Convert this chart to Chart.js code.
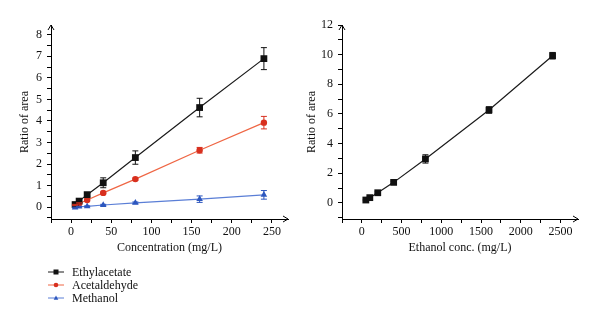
<!DOCTYPE html>
<html>
<head>
<meta charset="utf-8">
<script src="https://cdn.jsdelivr.net/npm/chart.js@4.4.0/dist/chart.umd.min.js"></script>
<style>
  html, body { margin: 0; padding: 0; background: #fff; }
  #wrap { position: relative; width: 600px; height: 324px; }
  .box { position: absolute; top: 0; width: 300px; height: 324px; }
</style>
</head>
<body>
<div id="wrap">
  <div class="box" style="left:0"><canvas id="leftChart"></canvas></div>
  <div class="box" style="left:300px"><canvas id="rightChart"></canvas></div>
</div>
<script>
// left panel data (mg/L vs ratio of area)
const concX = [5, 10, 20, 40, 80, 160, 240];
const ethylacetate = [0.12, 0.28, 0.58, 1.13, 2.30, 4.62, 6.89];
const ethylacetateErr = [0.05, 0.06, 0.08, 0.23, 0.31, 0.43, 0.51];
const acetaldehyde = [0.10, 0.17, 0.33, 0.66, 1.30, 2.64, 3.92];
const acetaldehydeErr = [0.03, 0.03, 0.04, 0.04, 0.05, 0.13, 0.29];
const methanol = [-0.02, 0.02, 0.04, 0.10, 0.20, 0.37, 0.57];
const methanolErr = [0.02, 0.02, 0.02, 0.03, 0.04, 0.15, 0.20];

// right panel data
const ethanolX = [50, 100, 200, 400, 800, 1600, 2400];
const ethanol = [0.20, 0.36, 0.69, 1.39, 2.97, 6.27, 9.93];
const ethanolErr = [0.04, 0.05, 0.06, 0.08, 0.28, 0.22, 0.22];

const seriesNames = ['Ethylacetate', 'Acetaldehyde', 'Methanol'];

const serif = "'Liberation Serif', 'DejaVu Serif', serif";

function toPoints(xs, ys) {
    return xs.map((x, i) => ({ x: x, y: ys[i] }));
}

// major + minor tick positions, every `step` inside [min, max]
function stepTicks(min, max, step) {
    const out = [];
    const first = Math.ceil(min / step - 1e-9);
    const last = Math.floor(max / step + 1e-9);
    for (let k = first; k <= last; k++) {
        out.push({ value: Math.round(k * step * 1000) / 1000 });
    }
    return out;
}

function markerPath(ctx, style, x, y, r) {
    ctx.beginPath();
    if (style === 'rect') {
        ctx.rect(x - r, y - r, 2 * r, 2 * r);
    } else if (style === 'triangle') {
        ctx.moveTo(x, y - r * 1.1);
        ctx.lineTo(x + r, y + r * 0.8);
        ctx.lineTo(x - r, y + r * 0.8);
        ctx.closePath();
    } else {
        ctx.arc(x, y, r, 0, Math.PI * 2);
    }
}

// error bars with caps
const errorBars = {
    id: 'errorBars',
    afterDatasetsDraw(chart) {
        const ctx = chart.ctx;
        const xs = chart.scales.x, ys = chart.scales.y;
        chart.data.datasets.forEach(ds => {
            if (!ds.errors) return;
            ctx.save();
            ctx.strokeStyle = ds.pointBackgroundColor;
            ctx.lineWidth = 1;
            ds.data.forEach((p, i) => {
                const px = xs.getPixelForValue(p.x);
                const top = ys.getPixelForValue(p.y + ds.errors[i]);
                const bot = ys.getPixelForValue(p.y - ds.errors[i]);
                ctx.beginPath();
                ctx.moveTo(px, top); ctx.lineTo(px, bot);
                ctx.moveTo(px - 3, top); ctx.lineTo(px + 3, top);
                ctx.moveTo(px - 3, bot); ctx.lineTo(px + 3, bot);
                ctx.stroke();
            });
            ctx.restore();
        });
    }
};

// arrow heads at the axis ends
const axisArrows = {
    id: 'axisArrows',
    afterDraw(chart) {
        const ctx = chart.ctx;
        const a = chart.chartArea;
        ctx.save();
        ctx.strokeStyle = '#000';
        ctx.lineWidth = 1;
        ctx.beginPath();
        ctx.moveTo(a.left - 3, a.top + 5); ctx.lineTo(a.left, a.top); ctx.lineTo(a.left + 3, a.top + 5);
        ctx.moveTo(a.right - 5, a.bottom - 3); ctx.lineTo(a.right, a.bottom); ctx.lineTo(a.right - 5, a.bottom + 3);
        ctx.stroke();
        ctx.restore();
    }
};

// legend listed under the left panel
const legendBelow = {
    id: 'legendBelow',
    afterDraw(chart) {
        const ctx = chart.ctx;
        ctx.save();
        chart.data.datasets.forEach((ds, i) => {
            const y = 272 + i * 13;
            ctx.strokeStyle = ds.borderColor;
            ctx.lineWidth = 1;
            ctx.beginPath();
            ctx.moveTo(48, y); ctx.lineTo(64, y);
            ctx.stroke();
            ctx.fillStyle = ds.pointBackgroundColor;
            markerPath(ctx, ds.pointStyle, 56, y, ds.pointStyle === 'rect' ? 2.5 : 2.3);
            ctx.fill();
            ctx.fillStyle = '#111';
            ctx.font = '12px ' + serif;
            ctx.textBaseline = 'middle';
            ctx.fillText(ds.label, 72, y + 0.5);
        });
        ctx.restore();
    }
};

function isMultiple(v, step) {
    return Math.abs(v / step - Math.round(v / step)) < 1e-6;
}

function makeAxes(cfg) {
    return {
        x: {
            type: 'linear',
            min: cfg.xMin, max: cfg.xMax,
            afterFit: s => { s.height = 40; },
            afterBuildTicks: s => { s.ticks = stepTicks(cfg.xMin, cfg.xMax, cfg.xStep); },
            ticks: {
                padding: 2,
                color: '#111',
                font: { family: serif, size: 12 },
                maxRotation: 0,
                autoSkip: false,
                callback: v => (v >= 0 && isMultiple(v, cfg.xLabel)) ? v : ''
            },
            grid: { display: true, drawOnChartArea: false, drawTicks: true, tickLength: 4, color: '#000' },
            border: { display: true, color: '#000', width: 1 },
            title: { display: true, text: cfg.xTitle, color: '#111', font: { family: serif, size: 12 } }
        },
        y: {
            type: 'linear',
            min: cfg.yMin, max: cfg.yMax,
            afterFit: s => { s.width = cfg.yWidth; },
            afterBuildTicks: s => { s.ticks = stepTicks(cfg.yMin, cfg.yMax, cfg.yStep); },
            ticks: {
                padding: 5,
                color: '#111',
                font: { family: serif, size: 12 },
                autoSkip: false,
                callback: v => (v >= 0 && isMultiple(v, cfg.yLabel)) ? Math.round(v) : ''
            },
            grid: { display: true, drawOnChartArea: false, drawTicks: true, tickLength: 4, color: '#000' },
            border: { display: true, color: '#000', width: 1 },
            title: { display: true, text: 'Ratio of area', color: '#111', font: { family: serif, size: 12 } }
        }
    };
}

function lineSet(label, xs, ys, errs, line, mark, style, radius) {
    return {
        label: label,
        data: toPoints(xs, ys),
        errors: errs,
        borderColor: line,
        borderWidth: 1.2,
        pointStyle: style,
        pointRadius: radius,
        pointBackgroundColor: mark,
        pointBorderColor: mark,
        pointBorderWidth: 0,
        tension: 0
    };
}

new Chart(document.getElementById('leftChart'), {
    type: 'line',
    data: {
        datasets: [
            lineSet(seriesNames[0], concX, ethylacetate, ethylacetateErr, '#1a1a1a', '#111', 'rect', 4.8),
            lineSet(seriesNames[1], concX, acetaldehyde, acetaldehydeErr, '#ef6644', '#d8301f', 'circle', 3.2),
            lineSet(seriesNames[2], concX, methanol, methanolErr, '#5a7ed6', '#2d57bf', 'triangle', 3.8)
        ]
    },
    options: {
        responsive: true,
        maintainAspectRatio: false,
        animation: false,
        layout: { padding: { left: 14, right: 12, top: 25, bottom: 65 } },
        plugins: { legend: { display: false }, tooltip: { enabled: false } },
        scales: makeAxes({
            xMin: -25, xMax: 270, xStep: 25, xLabel: 50, xTitle: 'Concentration (mg/L)',
            yMin: -0.55, yMax: 8.45, yStep: 0.5, yLabel: 1, yWidth: 37
        })
    },
    plugins: [errorBars, axisArrows, legendBelow]
});

new Chart(document.getElementById('rightChart'), {
    type: 'line',
    data: {
        datasets: [
            lineSet('Ethanol', ethanolX, ethanol, ethanolErr, '#1a1a1a', '#111', 'rect', 4.8)
        ]
    },
    options: {
        responsive: true,
        maintainAspectRatio: false,
        animation: false,
        layout: { padding: { left: 1, right: 22, top: 25, bottom: 65 } },
        plugins: { legend: { display: false }, tooltip: { enabled: false } },
        scales: makeAxes({
            xMin: -250, xMax: 2720, xStep: 250, xLabel: 500, xTitle: 'Ethanol conc. (mg/L)',
            yMin: -1.08, yMax: 12, yStep: 1, yLabel: 2, yWidth: 41
        })
    },
    plugins: [errorBars, axisArrows]
});
</script>
</body>
</html>
